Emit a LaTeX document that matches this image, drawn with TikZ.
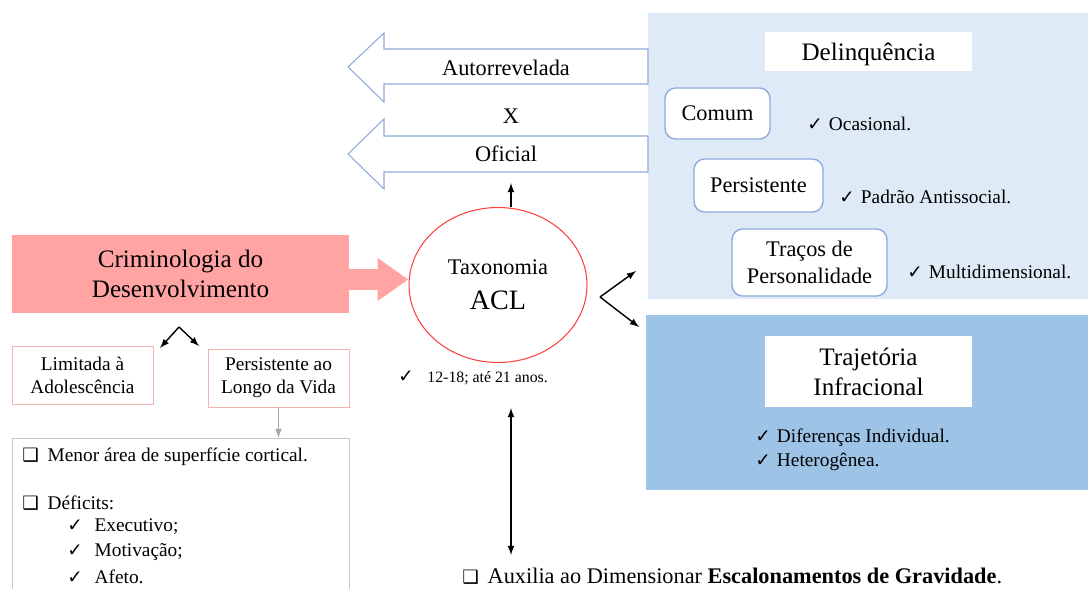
\documentclass[tikz,border=0pt]{standalone}
\usepackage{fontspec}
\setmainfont{Liberation Serif}
\newfontfamily\symfont{DejaVu Sans}
\usepackage{xcolor}
\usepackage{tikz}
\tikzset{>=latex}
\usetikzlibrary{
    positioning, % relative placement
    arrows.meta, % arrow tips
    calc, % coordinate calculations
    shapes.geometric % ellipse
}

\definecolor{lightblue}{HTML}{DEEBF7}
\definecolor{midblue}{HTML}{9DC3E6}
\definecolor{salmon}{HTML}{FFA3A3}
\definecolor{edgeblue}{HTML}{8FAADC}
\definecolor{pinkedge}{HTML}{F4B3B3}

\newcommand{\fbig}{\fontsize{14.3}{17}\selectfont}
\newcommand{\fmid}{\fontsize{12.7}{15.4}\selectfont}
\newcommand{\fsmall}{\fontsize{11}{13}\selectfont}
\newcommand{\ftiny}{\fontsize{9}{11}\selectfont}
\newcommand{\chk}[1][3.5pt]{{\symfont\fontsize{10.5}{10.5}\selectfont ✓}\hspace{#1}}
\newcommand{\sqb}{{\symfont\fontsize{10.5}{10.5}\selectfont ❑}\hspace{5pt}}

\begin{document}
\begin{tikzpicture}[x=0.02cm,y=-0.02cm]
    % blocks
    \tikzstyle{panel}   = [rectangle, draw=none, inner sep=0pt, anchor=north west]
    \tikzstyle{title}   = [rectangle, fill=white, text centered, font=\fbig, align=center, inner sep=0pt]
    \tikzstyle{kind}    = [rectangle, rounded corners=6pt, draw=edgeblue, fill=white, line width=0.8pt,
                           text centered, font=\fmid, align=center, inner sep=0pt]
    \tikzstyle{item}    = [anchor=west, inner sep=0pt, font=\fsmall]
    \tikzstyle{pinkbox} = [rectangle, draw=pinkedge, fill=white, font=\fsmall, align=center, inner sep=0pt,
                           minimum width=2.82cm, minimum height=1.16cm]
    \tikzstyle{line}    = [->, >=latex, draw=black, line width=0.8pt]
    \tikzstyle{bigarrow} = [draw=edgeblue, fill=white, line width=0.6pt]

    \useasboundingbox (0,0) rectangle (1088,588);
    \clip (0,0) rectangle (1088,588);

    % panels on the right
    \node[panel, fill=lightblue, minimum width=8.8cm, minimum height=5.72cm] (delpanel) at (648,13) {};
    \node[panel, fill=midblue, minimum width=8.84cm, minimum height=3.5cm] (trajpanel) at (646,315) {};

    % big arrows
    \draw[bigarrow] (648,49) -- (384,49) -- (384,33) -- (348,67) -- (384,102) -- (384,84) -- (648,84) -- cycle;
    \draw[bigarrow] (648,136) -- (384,136) -- (384,119) -- (348,154) -- (384,189) -- (384,172) -- (648,172) -- cycle;
    \node[font=\fmid] (autor) at (506,68) {Autorrevelada};
    \node[font=\fmid] (versus) at (511,116) {X};
    \node[font=\fmid] (oficial) at (506,154) {Oficial};

    % delinquencia
    \node[title, minimum width=4.14cm, minimum height=0.78cm, text depth=0pt] (delin) at (868.5,51.5) {Delinquência};
    \node[kind, minimum width=2.1cm, minimum height=1.02cm] (comum) at (717.5,113.5) {Comum};
    \node[kind, minimum width=2.58cm, minimum height=1.06cm] (persist) at (758.5,185.5) {Persistente};
    \node[kind, minimum width=3.1cm, minimum height=1.34cm] (tracos) at (809.5,262.5) {Traços de\\Personalidade};
    \node[item] (ocas) at (807,124) {\chk Ocasional.};
    \node[item] (padrao) at (839,197) {\chk Padrão Antissocial.};
    \node[item] (multi) at (907,272) {\chk Multidimensional.};

    % trajetoria
    \node[title, minimum width=4.14cm, minimum height=1.42cm] (traj) at (868.5,371.5) {Trajetória\\Infracional};
    \node[item] (difer) at (755,438) {\chk Diferenças Individual.};
    \node[item] (hetero) at (755,462) {\chk Heterogênea.};

    % taxonomia
    \node[ellipse, draw=red!75, line width=0.6pt, minimum width=3.56cm, minimum height=3.1cm] (taxo) at (498,285) {};
    \node[font=\fmid] (taxolbl) at (498,267) {Taxonomia};
    \node[font=\fontsize{16}{18}\selectfont] (acl) at (498,300) {ACL};
    \node[item, font=\ftiny] (ages) at (398,378) {\chk[5.5pt] 12-18; até 21 anos.};

    % criminologia
    \node[rectangle, fill=salmon, minimum width=6.74cm, minimum height=1.56cm, font=\fbig, align=center,
          inner sep=0pt] (crim) at (180.5,274) {Criminologia do\\Desenvolvimento};
    \coordinate (crimout) at ($(crim.east)+(0,5.5)$);
    \draw[-{Triangle[length=0.62cm,width=0.82cm]}, draw=salmon, line width=0.42cm] (crimout) -- (crimout -| taxo.west);

    % arrows round the ellipse
    \coordinate (ofbase) at (511,183);
    \draw[line] (taxo.north -| ofbase) -- (ofbase);
    \coordinate (fork) at (600,297);
    \coordinate (forkup) at (636,271);
    \coordinate (forkdown) at (639,327);
    \draw[line] (fork) -- (forkup);
    \draw[line] (fork) -- (forkdown);

    % bottom note
    \node[anchor=west, inner sep=0pt, font=\fmid] (aux) at (462,576)
         {\sqb Auxilia ao Dimensionar \textbf{Escalonamentos de Gravidade}.};
    \coordinate (auxtop) at (511,408);
    \coordinate (auxbot) at (511,555);
    \draw[<->, line width=0.8pt] (auxtop) -- (auxbot);

    % two paths
    \coordinate (split) at (179,327);
    \coordinate (splitl) at (160,348);
    \coordinate (splitr) at (199,346);
    \draw[line] (split) -- (splitl);
    \draw[line] (split) -- (splitr);
    \node[pinkbox] (limit) at (82.5,375) {Limitada à\\Adolescência};
    \node[pinkbox] (lcp) at (278.5,378) {Persistente ao\\Longo da Vida};

    % deficits
    \node[rectangle, draw=gray!45, line width=0.8pt, anchor=north west, minimum width=6.74cm,
          minimum height=3.5cm] (deficit) at (12,438) {};
    \draw[->, draw=gray!70, line width=0.8pt] (lcp.south) -- (lcp.south |- deficit.north);
    \node[item] (cortex) at (22,457) {\sqb Menor área de superfície cortical.};
    \node[item] (defic) at (22,503) {\sqb Déficits:};
    \node[item] (exec) at (67,527) {\chk[4pt] Executivo;};
    \node[item] (motiv) at (67,552) {\chk[4pt] Motivação;};
    \node[item] (afeto) at (67,577) {\chk[4pt] Afeto.};
\end{tikzpicture}
\end{document}
